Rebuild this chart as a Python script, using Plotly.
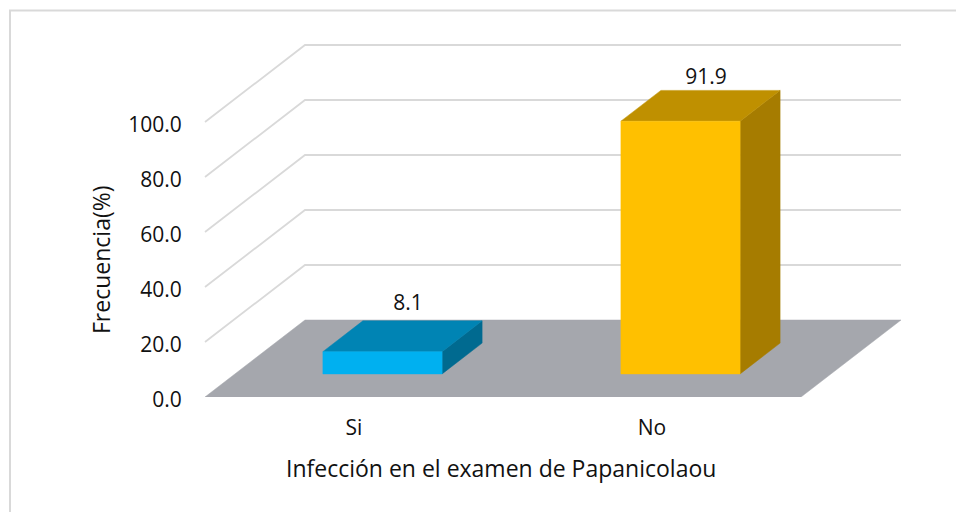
import plotly.graph_objects as go

categories = ["Si", "No"]
values = [8.1, 91.9]
y_ticks = [0, 20, 40, 60, 80, 100]
y_labels = ["0.0", "20.0", "40.0", "60.0", "80.0", "100.0"]
front_colors = ["#00B0F0", "#FFC000"]
top_colors = ["#0084B4", "#BF9000"]
side_colors = ["#006A90", "#A67C00"]

# the page has an 8 px body margin, so the figure is drawn 8 px in from the window edge
PAGE = 8
W, H = 964 - PAGE, 512 - PAGE
LEFT, RIGHT, TOP, BOTTOM = 185 - PAGE, 905 - PAGE, 40 - PAGE, 397 - PAGE
FLOOR_LEFT = 205 - PAGE

# one category is 298 px wide, one percent is 2.75 px tall
X_UNIT = 298
Y_UNIT = 2.75
X_MIN = (LEFT - FLOOR_LEFT) / X_UNIT
X_MAX = (RIGHT - FLOOR_LEFT) / X_UNIT
Y_MAX = (BOTTOM - TOP) / Y_UNIT

# the floor goes back this far on screen, in axis units
DEPTH_X = 100 / X_UNIT
DEPTH_Y = 77 / Y_UNIT
BAR_HALF = 0.2
BAR_SHIFT = -1.5 / X_UNIT
BAR_D0, BAR_D1 = 0.3, 0.7
LABEL_D = 0.54
LABEL_LIFT = [6 / Y_UNIT, 1 / Y_UNIT]
FONT = "Open Sans"
TEXT = "#111111"


def project(x, v, d):
    return x + d * DEPTH_X, v + d * DEPTH_Y


def poly(points, color):
    xy = [project(*p) for p in points]
    xs = [p[0] for p in xy] + [xy[0][0]]
    ys = [p[1] for p in xy] + [xy[0][1]]
    return go.Scatter(x=xs, y=ys, mode="lines", fill="toself", fillcolor=color,
                      line=dict(color=color, width=0.5), hoverinfo="skip", showlegend=False)


def paper_x(px):
    return (px - PAGE - LEFT) / (RIGHT - LEFT)


def paper_y(px):
    return (BOTTOM - px + PAGE) / (BOTTOM - TOP)


fig = go.Figure()

# gridlines run along the side wall then the back wall
for t in y_ticks[1:]:
    a = project(0, t, 0)
    b = project(0, t, 1)
    c = project(2, t, 1)
    fig.add_trace(go.Scatter(x=[a[0], b[0], c[0]], y=[a[1], b[1], c[1]], mode="lines",
                             line=dict(color="#D9D9D9", width=1.8), hoverinfo="skip", showlegend=False))

# floor
fig.add_trace(poly([(0, 0, 0), (2, 0, 0), (2, 0, 1), (0, 0, 1)], "#A5A7AD"))

# bars
for i, v in enumerate(values):
    x0, x1 = i + 0.5 - BAR_HALF + BAR_SHIFT, i + 0.5 + BAR_HALF + BAR_SHIFT
    fig.add_trace(poly([(x1, 0, BAR_D0), (x1, 0, BAR_D1), (x1, v, BAR_D1), (x1, v, BAR_D0)], side_colors[i]))
    fig.add_trace(poly([(x0, v, BAR_D0), (x1, v, BAR_D0), (x1, v, BAR_D1), (x0, v, BAR_D1)], top_colors[i]))
    fig.add_trace(poly([(x0, 0, BAR_D0), (x1, 0, BAR_D0), (x1, v, BAR_D0), (x0, v, BAR_D0)], front_colors[i]))

# value labels sit above the top face
lx = [project(i + 0.5, v, LABEL_D)[0] for i, v in enumerate(values)]
ly = [project(i + 0.5, v, BAR_D1)[1] + LABEL_LIFT[i] for i, v in enumerate(values)]
fig.add_trace(go.Scatter(x=lx, y=ly, mode="text", text=[f"{v:.1f}" for v in values],
                         textposition="top center", textfont=dict(family=FONT, size=21, color=TEXT),
                         hoverinfo="skip", showlegend=False))

fig.update_layout(
    width=W, height=H,
    autosize=False,
    margin=dict(l=LEFT, r=W - RIGHT, t=TOP, b=H - BOTTOM, pad=0),
    paper_bgcolor="white", plot_bgcolor="white",
    font=dict(family=FONT, color=TEXT),
    xaxis=dict(range=[X_MIN, X_MAX], tickmode="array", tickvals=[0.5, 1.5], ticktext=categories,
               showgrid=False, zeroline=False, showline=False,
               ticks="outside", ticklen=12, tickcolor="rgba(0,0,0,0)",
               tickfont=dict(family=FONT, size=21, color=TEXT)),
    yaxis=dict(range=[0, Y_MAX], tickmode="array", tickvals=y_ticks, ticktext=y_labels,
               showgrid=False, zeroline=False, showline=False,
               ticks="outside", ticklen=1, tickcolor="rgba(0,0,0,0)",
               ticklabelshift=3, ticklabelstandoff=-3,
               tickfont=dict(family=FONT, size=21, color=TEXT)),
    # axis titles are not centred on the plot area in the reference, so they are placed by hand
    annotations=[
        dict(text="Infección en el examen de Papanicolaou", xref="paper", yref="paper",
             x=paper_x(501), y=paper_y(467.5), showarrow=False, xanchor="center", yanchor="middle",
             font=dict(family=FONT, size=23, color=TEXT)),
        dict(text="Frecuencia(%)", xref="paper", yref="paper", textangle=-90,
             x=paper_x(101), y=paper_y(260), showarrow=False, xanchor="center", yanchor="middle",
             font=dict(family=FONT, size=23, color=TEXT)),
    ],
    shapes=[
        dict(type="line", xref="paper", yref="paper",
             x0=paper_x(9), x1=paper_x(964), y0=paper_y(10.5), y1=paper_y(10.5),
             line=dict(color="#D9D9D9", width=2)),
        dict(type="line", xref="paper", yref="paper",
             x0=paper_x(10), x1=paper_x(10), y0=paper_y(10), y1=paper_y(512),
             line=dict(color="#D9D9D9", width=2)),
    ],
)

fig.write_html("out.html")
